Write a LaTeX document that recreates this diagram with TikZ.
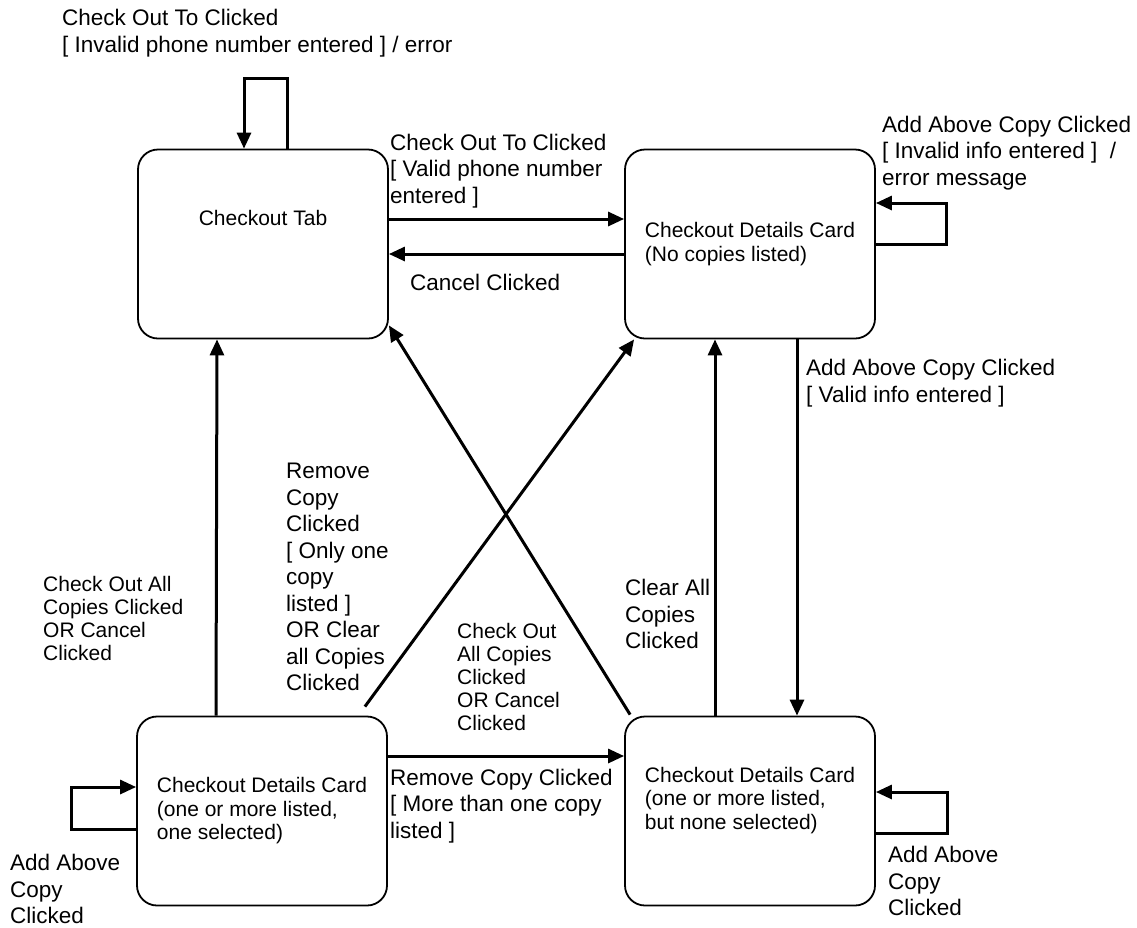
\documentclass[tikz,border=0pt]{standalone}
\usepackage{fontspec}
\setmainfont{Liberation Sans}
\usetikzlibrary{arrows.meta}

\begin{document}
\begin{tikzpicture}[x=1pt,y=-1pt,
  state/.style={draw,line width=1.8pt,rounded corners=20pt,minimum width=250pt,minimum height=189pt,inner sep=0pt,align=left,font=\fontsize{21}{23.5}\selectfont},
  trans/.style={line width=3pt,-{Triangle[length=16pt,width=14pt]}},
  lbl/.style={anchor=west,inner sep=0pt,align=left,font=\fontsize{22.5}{26.5}\selectfont},
  sml/.style={anchor=west,inner sep=0pt,align=left,font=\fontsize{21}{23}\selectfont}]
  \useasboundingbox (0,0) rectangle (1137,927);
  % states
  \node [state,text depth=52pt] (tab) at (263,244) {Checkout Tab};
  \node [state] (nocopy) at (750,244) {Checkout Details Card\\(No copies listed)};
  \node [state] (sel) at (262,811) {Checkout Details Card\\(one or more listed,\\one selected)};
  \node [state,text depth=26pt] (nosel) at (750,811) {Checkout Details Card\\(one or more listed,\\but none selected)};
  % transitions
  \draw [trans] ([xshift=24pt]tab.north) -- ++(0,-70) -| ([xshift=-19pt]tab.north);
  \draw [trans] ([yshift=25pt]tab.east) -- ([yshift=25pt]nocopy.west);
  \draw [trans] ([yshift=-10pt]nocopy.west) -- ([yshift=-10pt]tab.east);
  \draw [trans] (nocopy.east) -- ++(71,0) |- ([yshift=41pt]nocopy.east);
  \draw [trans] ([xshift=47pt]nocopy.south) -- ([xshift=47pt]nosel.north);
  \draw [trans] ([xshift=-35pt]nosel.north) -- ([xshift=-35pt]nocopy.south);
  \draw [trans] ([xshift=-46pt]sel.north) -- ([xshift=-46pt]tab.south);
  \draw [trans] ([xshift=-23pt,yshift=9pt]sel.north east) -- ([xshift=10pt]nocopy.south west);
  \draw [trans] ([xshift=6pt,yshift=1pt]nosel.north west) -- ([yshift=14pt]tab.south east);
  \draw [trans] ([yshift=55pt]sel.east) -- ([yshift=55pt]nosel.west);
  \draw [trans] ([yshift=-18pt]sel.west) -- ++(-65,0) |- ([yshift=24pt]sel.west);
  \draw [trans] ([yshift=-22pt]nosel.east) -- ++(72,0) |- ([yshift=19pt]nosel.east);
  % labels
  \node [lbl] (lloop) at (62,33) {Check Out To Clicked\\{[} Invalid phone number entered ] / error};
  \node [lbl] (lvalid) at (390,171) {Check Out To Clicked\\{[} Valid phone number\\entered ]};
  \node [lbl] (lcancel) at (410,282) {Cancel Clicked};
  \node [lbl] (linvalid) at (882,153) {Add Above Copy Clicked\\{[} Invalid info entered ]~~/\\error message};
  \node [lbl] (lvalidinfo) at (806,383) {Add Above Copy Clicked\\{[} Valid info entered ]};
  \node [lbl] (lclear) at (625,614) {Clear All\\Copies\\Clicked};
  \node [sml] (lcheckall) at (43,618) {Check Out All\\Copies Clicked\\OR Cancel\\Clicked};
  \node [lbl] (lremone) at (286,577) {Remove\\Copy\\Clicked\\{[} Only one\\copy\\listed ]\\OR Clear\\all Copies\\Clicked};
  \node [sml] (lcheckout) at (457,677) {Check Out\\All Copies\\Clicked\\OR Cancel\\Clicked};
  \node [lbl] (lremmore) at (390,806) {Remove Copy Clicked\\{[} More than one copy\\listed ]};
  \node [lbl] (laddsel) at (10,889) {Add Above\\Copy\\Clicked};
  \node [lbl] (laddnosel) at (888,881) {Add Above\\Copy\\Clicked};
\end{tikzpicture}
\end{document}
